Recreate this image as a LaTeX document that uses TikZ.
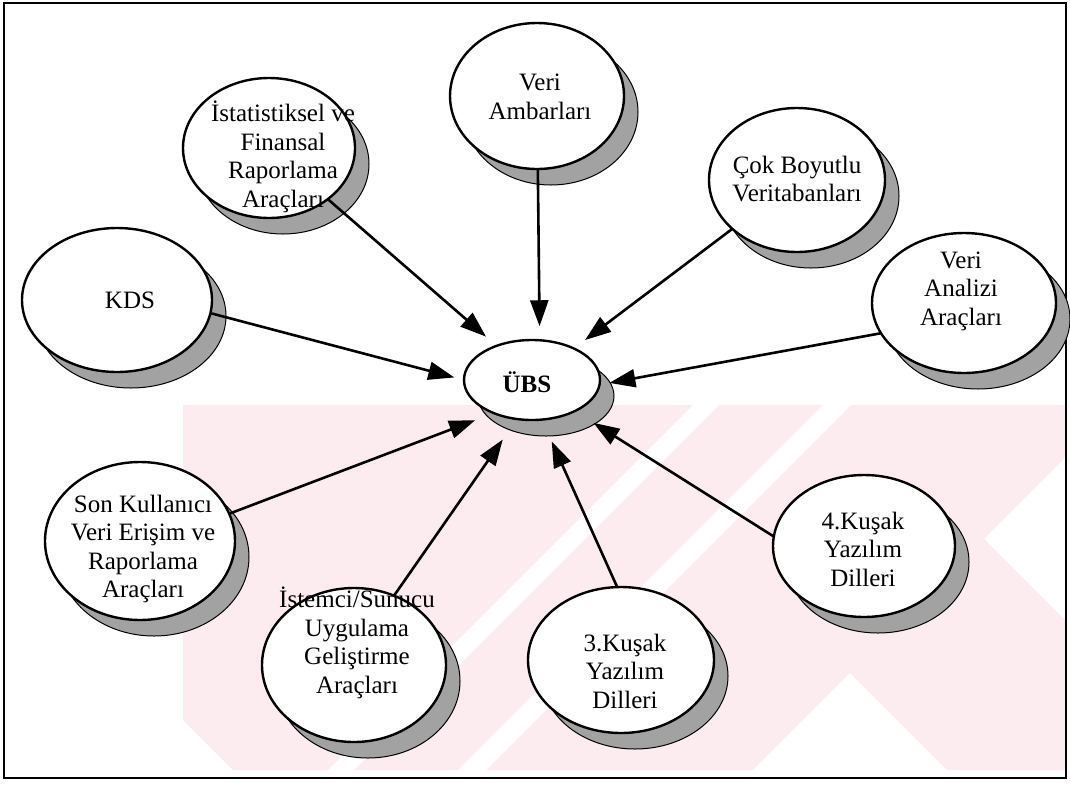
\documentclass[tikz,border=0pt]{standalone}
\usepackage{fontspec}
\setmainfont{Liberation Serif}
\usetikzlibrary{shapes.geometric,arrows.meta,shadows}
\definecolor{wmpink}{RGB}{252,235,239}
\definecolor{shadefill}{RGB}{162,162,162}
\begin{document}
\begin{tikzpicture}[x=1pt,y=-1pt,
  bubble/.style={ellipse, draw=black, line width=2.4pt, fill=white, inner sep=0pt, outer sep=0pt,
    drop shadow={shadow xshift=14pt, shadow yshift=-16pt, fill=shadefill, draw=black, line width=1pt, opacity=1}},
  txt/.style={align=center, font=\fontsize{25}{28.5}\selectfont, inner sep=0pt},
  feed/.style={line width=2.6pt, -{Triangle[length=26pt,width=18pt]}}]

\useasboundingbox (0,0) rectangle (1070,785);

% faint background emblem: pink field with white diagonal cut-outs
\begin{scope}
  \clip (183,405) rectangle (1066,770);
  \fill[wmpink] (183,405) rectangle (1066,770);
  \fill[white] (723,800) -- (850,673) -- (977,800) -- cycle;
  \fill[white] (984,539) -- (1128,395) -- (1300,395) -- (1300,855) -- cycle;
  \fill[white] (150,687) -- (263,800) -- (150,800) -- cycle;
  \fill[white] (833,395) -- (861,395) -- (456,800) -- (428,800) -- cycle;
  \fill[white] (703,395) -- (729,395) -- (324,800) -- (298,800) -- cycle;
\end{scope}

% outer frame
\draw[line width=2.5pt] (4,3) rectangle (1066,778);

% ellipses
\node[bubble, minimum width=172pt, minimum height=140pt] (stat)    at (269,148) {};
\node[bubble, minimum width=174pt, minimum height=146pt] (veri)    at (537,96)  {};
\node[bubble, minimum width=176pt, minimum height=144pt] (cok)     at (797,180) {};
\node[bubble, minimum width=190pt, minimum height=144pt] (kds)     at (117,300) {};
\node[bubble, minimum width=136pt, minimum height=80pt]  (ubs)     at (532,380) {};
\node[bubble, minimum width=184pt, minimum height=140pt] (analiz)  at (964,303) {};
\node[bubble, minimum width=190pt, minimum height=158pt] (son)     at (140,541) {};
\node[bubble, minimum width=184pt, minimum height=154pt] (istemci) at (354,665) {};
\node[bubble, minimum width=186pt, minimum height=146pt] (k3)      at (621,660) {};
\node[bubble, minimum width=182pt, minimum height=142pt] (k4)      at (864,546) {};

% labels
\node[txt] (stat-t)    at (283,157) {İstatistiksel ve\\Finansal\\Raporlama\\Araçları};
\node[txt] (veri-t)    at (540,97)  {Veri\\Ambarları};
\node[txt] (cok-t)     at (797,179) {Çok Boyutlu\\Veritabanları};
\node[txt] (kds-t)     at (130,300) {KDS};
\node[txt, font=\fontsize{25}{28.5}\selectfont\bfseries] (ubs-t) at (527,382) {ÜBS};
\node[txt] (analiz-t)  at (961,291) {Veri\\Analizi\\Araçları};
\node[txt] (son-t)     at (143,549) {Son Kullanıcı\\Veri Erişim ve\\Raporlama\\Araçları};
\node[txt] (istemci-t) at (357,643) {İstemci/Sunucu\\Uygulama\\Geliştirme\\Araçları};
\node[txt] (k3-t)      at (625,671) {3.Kuşak\\Yazılım\\Dilleri};
\node[txt] (k4-t)      at (863,549) {4.Kuşak\\Yazılım\\Dilleri};

% connectors into the centre
\draw[feed, shorten >=14pt] (stat) -- (ubs.136);
\draw[feed, shorten >=14pt] (veri) -- (ubs.79);
\draw[feed, shorten >=14pt] (cok) -- (ubs.37);
\draw[feed, shorten >=10pt] (kds.-8) -- (ubs.180);
\draw[feed, shorten >=10pt] (analiz.200) -- (ubs.-4);
\draw[feed, shorten >=20pt] (son.17) -- (ubs.221);
\draw[feed, shorten >=25pt] (istemci.60) -- (ubs.249);
\draw[feed, shorten >=24pt] (k3.93) -- (ubs.-76);
\draw[feed, shorten >=22pt] (k4.174) -- (ubs.-36);

\end{tikzpicture}
\end{document}
